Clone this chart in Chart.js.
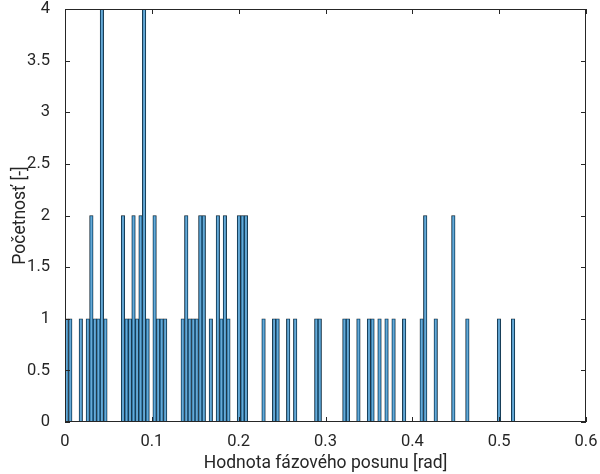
<!DOCTYPE html>
<html>
<head>
<meta charset="utf-8">
<script src="https://cdn.jsdelivr.net/npm/chart.js@4"></script>
<style>
  html, body { margin: 0; padding: 0; background: #fff; }
  #wrap { width: 600px; height: 474px; }
</style>
</head>
<body>
<div id="wrap"><canvas id="c"></canvas></div>
<script>
// histogram bins (128 equal bins from 0)
const binStart = 0
const binWidth = 0.004047
// counts per bin
const counts = [
  1, 1, 0, 0, 1, 0, 1, 2, 1, 1,   4, 1, 0, 0, 0, 0, 2, 1, 1, 2,
  1, 2, 4, 1, 0, 2, 1, 1, 1, 0,   0, 0, 0, 1, 2, 1, 1, 1, 2, 2,
  0, 1, 0, 2, 1, 2, 1, 0, 0, 2,   2, 2, 0, 0, 0, 0, 1, 0, 0, 1,
  1, 0, 0, 1, 0, 1, 0, 0, 0, 0,   0, 1, 1, 0, 0, 0, 0, 0, 0, 1,
  1, 0, 0, 1, 0, 0, 1, 1, 0, 1,   0, 1, 0, 1, 0, 0, 1, 0, 0, 0,
  0, 1, 2, 0, 0, 1, 0, 0, 0, 0,   2, 0, 0, 0, 1, 0, 0, 0, 0, 0,
  0, 0, 0, 1, 0, 0, 0, 1
]
const xTicks = [0, 0.1, 0.2, 0.3, 0.4, 0.5, 0.6]
const yTicks = [0, 0.5, 1, 1.5, 2, 2.5, 3, 3.5, 4]
const xTitle = 'Hodnota fázového posunu [rad]'
const yTitle = 'Početnosť [-]'

const axisColor = '#262626'
const font = 'Roboto'

const points = counts.map((c, i) => ({ x: binStart + (i + 0.5) * binWidth, y: c }))

// box around the axes with inward ticks on all four sides, like matlab
const boxPlugin = {
  id: 'box',
  afterDraw(chart) {
    const { ctx, chartArea: a, scales } = chart
    const len = 5
    ctx.save()
    ctx.strokeStyle = axisColor
    ctx.lineWidth = 1
    ctx.strokeRect(a.left + 0.5, a.top + 0.5, a.right - a.left - 1, a.bottom - a.top - 1)
    ctx.beginPath()
    xTicks.forEach(v => {
      const px = Math.round(scales.x.getPixelForValue(v)) + 0.5
      ctx.moveTo(px, a.bottom); ctx.lineTo(px, a.bottom - len)
      ctx.moveTo(px, a.top); ctx.lineTo(px, a.top + len)
    })
    yTicks.forEach(v => {
      const py = Math.round(scales.y.getPixelForValue(v)) + 0.5
      ctx.moveTo(a.left, py); ctx.lineTo(a.left + len, py)
      ctx.moveTo(a.right, py); ctx.lineTo(a.right - len, py)
    })
    ctx.stroke()
    ctx.restore()
  }
}

new Chart(document.getElementById('c'), {
  type: 'bar',
  data: {
    datasets: [{
      data: points,
      backgroundColor: 'rgba(0, 114, 189, 0.6)',
      borderColor: axisColor,
      borderWidth: 0.5,
      borderSkipped: false,
      barPercentage: 1,
      categoryPercentage: 1
    }]
  },
  options: {
    responsive: true,
    maintainAspectRatio: false,
    animation: false,
    layout: { padding: { top: 9, right: 14, left: 0, bottom: 0 } },
    plugins: { legend: { display: false }, tooltip: { enabled: false } },
    scales: {
      x: {
        type: 'linear',
        min: 0,
        max: 0.6,
        offset: false,
        afterBuildTicks: s => { s.ticks = xTicks.map(v => ({ value: v })) },
        afterFit: s => { s.height = 52; s.paddingLeft = 0; s.paddingRight = 0 },
        grid: { display: false },
        border: { display: false },
        ticks: {
          color: axisColor,
          font: { family: font, size: 16.5 },
          padding: 2,
          maxRotation: 0,
          callback: v => String(v)
        },
        title: {
          display: true,
          text: xTitle,
          color: axisColor,
          font: { family: font, size: 17.5 },
          padding: { top: 0, bottom: 0 }
        }
      },
      y: {
        min: 0,
        max: 4,
        afterBuildTicks: s => { s.ticks = yTicks.map(v => ({ value: v })) },
        afterFit: s => { s.width = 65; s.paddingTop = 0; s.paddingBottom = 0 },
        grid: { display: false },
        border: { display: false },
        ticks: {
          color: axisColor,
          font: { family: font, size: 16.5 },
          padding: 7,
          callback: v => String(v)
        },
        title: {
          display: true,
          text: yTitle,
          color: axisColor,
          font: { family: font, size: 17.5 },
          padding: { top: 10, bottom: 0 }
        }
      }
    }
  },
  plugins: [boxPlugin]
})
</script>
</body>
</html>
